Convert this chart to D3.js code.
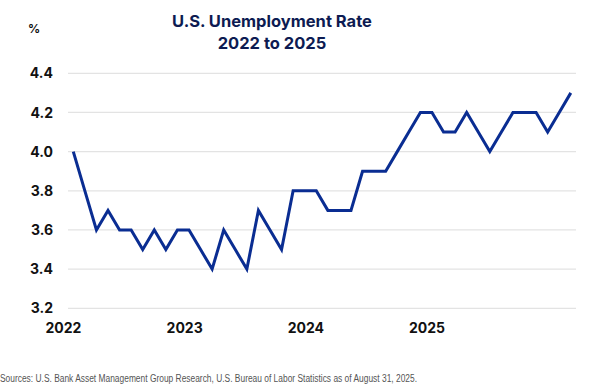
<!DOCTYPE html>
<html lang="en">

<head>
    <meta charset="UTF-8">
    <title>U.S. Unemployment Rate</title>
    <style>
        body {
            margin: 0;
            background: #fff;
        }

        svg {
            display: block;
        }
    </style>
</head>

<body>
    <div class="box"></div>
    <script src="https://d3js.org/d3.v7.min.js"></script>

    <script>
        // monthly rate, Jan 2022 .. Aug 2025
        const months = d3.range(44);
        const rates = [
            4.0, 3.8, 3.6, 3.7, 3.6, 3.6, 3.5, 3.6, 3.5, 3.6, 3.6, 3.5,
            3.4, 3.6, 3.5, 3.4, 3.7, 3.6, 3.5, 3.8, 3.8, 3.8, 3.7, 3.7,
            3.7, 3.9, 3.9, 3.9, 4.0, 4.1, 4.2, 4.2, 4.1, 4.1, 4.2, 4.1,
            4.0, 4.1, 4.2, 4.2, 4.2, 4.1, 4.2, 4.3
        ];
        const yTicks = [3.2, 3.4, 3.6, 3.8, 4.0, 4.2, 4.4];
        const yearLabels = ['2022', '2023', '2024', '2025'];

        const width = 600;
        const height = 388;

        const svg = d3.select(".box").append("svg")
            .attr("width", width)
            .attr("height", height);

        // 比例尺
        const x = d3.scaleLinear().domain([0, 43]).range([73.3, 570.8]);
        const y = d3.scaleLinear().domain([3.2, 4.4]).range([308.3, 73.3]);
        // year labels sit on their own even spacing
        const xYear = d3.scalePoint().domain(yearLabels).range([63.5, 427]);

        // 网格线
        svg.append('g')
            .selectAll('line')
            .data(yTicks)
            .join('line')
            .attr('x1', 68)
            .attr('x2', 576)
            .attr('y1', d => y(d))
            .attr('y2', d => y(d))
            .attr('stroke', '#e3e3e3')
            .attr('stroke-width', 1.2);

        // y轴标签
        svg.append('g')
            .selectAll('text')
            .data(yTicks)
            .join('text')
            .text(d => d.toFixed(1))
            .attr('x', 53)
            .attr('y', d => y(d))
            .attr('dy', '0.36em')
            .attr('text-anchor', 'end')
            .attr('font-family', 'Inter, sans-serif')
            .attr('font-weight', 700)
            .attr('font-size', 14)
            .attr('fill', '#111');

        // x轴标签
        svg.append('g')
            .selectAll('text')
            .data(yearLabels)
            .join('text')
            .text(d => d)
            .attr('x', d => xYear(d))
            .attr('y', 333)
            .attr('text-anchor', 'middle')
            .attr('font-family', 'Inter, sans-serif')
            .attr('font-weight', 700)
            .attr('font-size', 14)
            .attr('fill', '#111');

        // 折线
        const line = d3.line()
            .x(i => x(i))
            .y(i => y(rates[i]));

        svg.append('path')
            .datum(months)
            .attr('d', line)
            .attr('fill', 'none')
            .attr('stroke', '#0a2d92')
            .attr('stroke-width', 3)
            .attr('stroke-linejoin', 'miter');

        // 标题
        svg.append('text')
            .text('U.S. Unemployment Rate')
            .attr('x', 272)
            .attr('y', 27)
            .attr('text-anchor', 'middle')
            .attr('font-family', 'Inter, sans-serif')
            .attr('font-weight', 700)
            .attr('font-size', 16.5)
            .attr('fill', '#0d1b52');

        svg.append('text')
            .text('2022 to 2025')
            .attr('x', 272)
            .attr('y', 49)
            .attr('text-anchor', 'middle')
            .attr('font-family', 'Inter, sans-serif')
            .attr('font-weight', 700)
            .attr('font-size', 16.5)
            .attr('fill', '#0d1b52');

        svg.append('text')
            .text('%')
            .attr('x', 28)
            .attr('y', 33)
            .attr('font-family', 'Inter, sans-serif')
            .attr('font-weight', 700)
            .attr('font-size', 12)
            .attr('fill', '#111');

        // 来源
        svg.append('text')
            .text('Sources: U.S. Bank Asset Management Group Research, U.S. Bureau of Labor Statistics as of August 31, 2025.')
            .attr('x', 0)
            .attr('y', 382)
            .attr('textLength', 417)
            .attr('lengthAdjust', 'spacingAndGlyphs')
            .attr('font-family', '"Liberation Sans", Arial, sans-serif')
            .attr('font-size', 10)
            .attr('fill', '#555');
    </script>
</body>

</html>
